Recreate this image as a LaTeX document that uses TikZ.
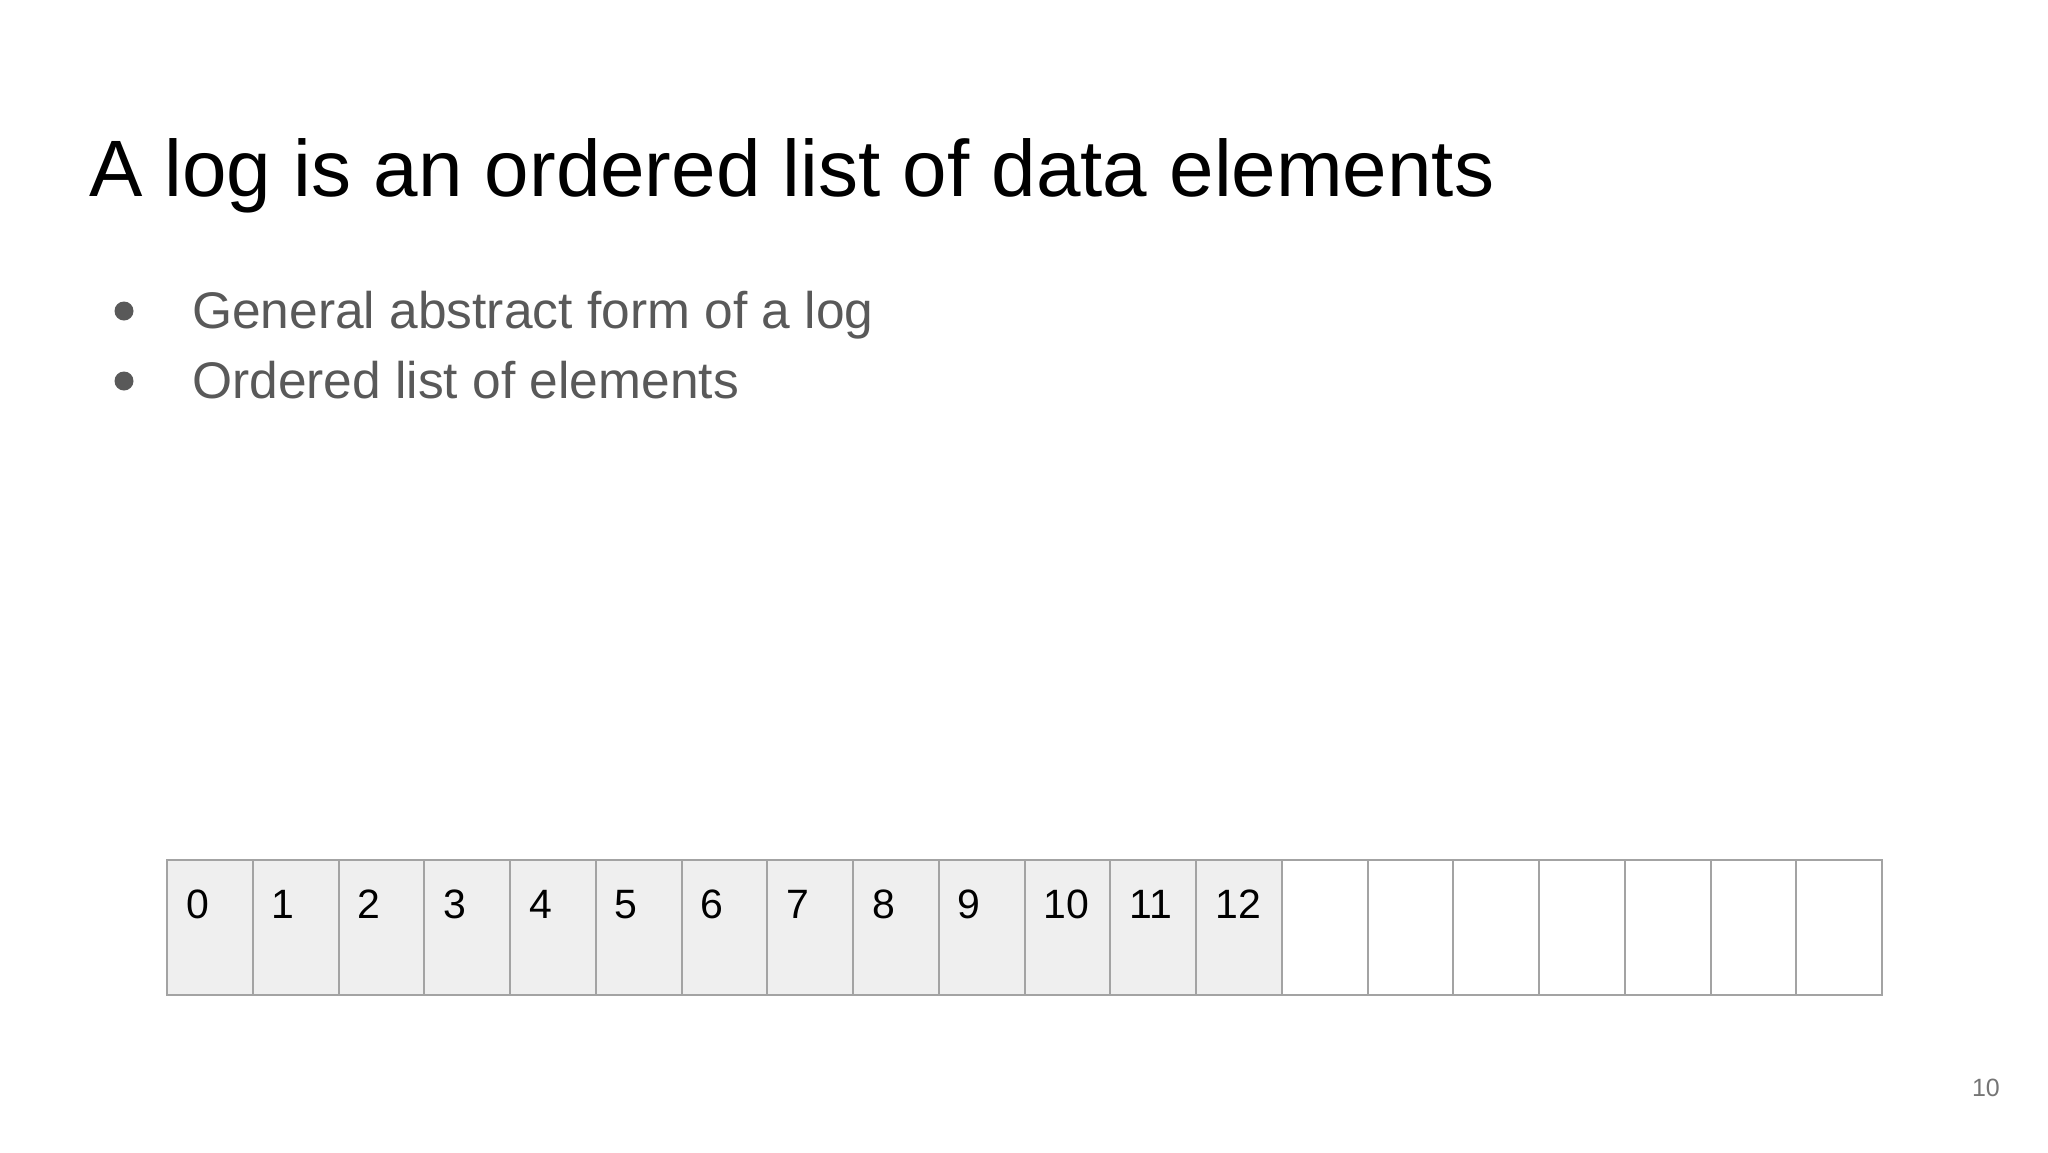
\documentclass[tikz,border=0pt]{standalone}
\usepackage{fontspec}
\usetikzlibrary{calc}
\setmainfont{Liberation Sans}
\newfontfamily\titlefont{Liberation Sans}
\newfontfamily\cellfont{Liberation Sans}
\definecolor{cellfill}{HTML}{EFEFEF}
\definecolor{cellline}{HTML}{A3A3A3}
\definecolor{bulletgray}{HTML}{595959}
\definecolor{pagegray}{HTML}{757575}
\tikzset{
  cellbox/.style={draw=cellline, line width=2pt, minimum width=85.75pt, minimum height=135pt, inner sep=0pt, anchor=north west},
  usedcell/.style={cellbox, fill=cellfill},
  freecell/.style={cellbox, fill=white},
  num/.style={anchor=base west, inner sep=0pt, font=\cellfont\fontsize{41}{48}\selectfont, text=black},
  titletext/.style={anchor=base west, inner sep=0pt, font=\titlefont\fontsize{80}{96}\selectfont, text=black},
  bullettext/.style={anchor=base west, inner sep=0pt, font=\titlefont\fontsize{51.5}{60}\selectfont, text=bulletgray},
  dot/.style={circle, fill=bulletgray, inner sep=0pt, minimum size=19pt},
  pagenum/.style={anchor=base east, inner sep=0pt, font=\cellfont\fontsize{25}{30}\selectfont, text=pagegray}
}
\begin{document}
\begin{tikzpicture}[x=1pt, y=-1pt]
\useasboundingbox[fill=white] (0,0) rectangle (2048,1152);
\node[titletext] (title) at (89,196) {A log is an ordered list of data elements};
\node[dot] (d1) at (124,311) {};
\node[dot] (d2) at (124,381) {};
\node[bullettext] (b1) at (192,328) {General abstract form of a log};
\node[bullettext] (b2) at (192,398) {Ordered list of elements};
\foreach \i in {0,...,12} {
  \node[usedcell] (c\i) at ({166+\i*85.75},859) {};
  \node[num] (n\i) at ($(c\i.north west)+(20,59)$) {\i};
}
\foreach \i in {13,...,19} {
  \node[freecell] (c\i) at ({166+\i*85.75},859) {};
}
\node[pagenum] (page) at (2000,1096) {10};
\end{tikzpicture}
\end{document}
